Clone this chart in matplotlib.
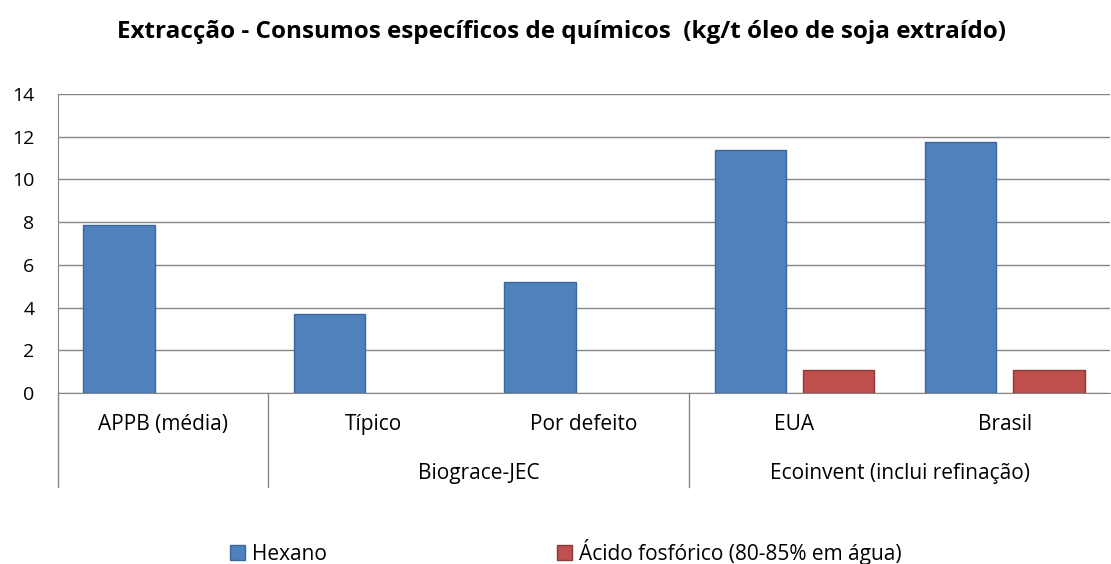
import numpy as np
import matplotlib
matplotlib.use("Agg")
from matplotlib import pyplot as plt
from matplotlib.patches import Patch

plt.rcParams['font.family'] = ['Open Sans', 'DejaVu Sans']

# data
categories = ["APPB (média)", "Típico", "Por defeito", "EUA", "Brasil"]
groups = ["", "Biograce-JEC", "Biograce-JEC", "Ecoinvent (inclui refinação)", "Ecoinvent (inclui refinação)"]
hexano = [7.87, 3.70, 5.20, 11.38, 11.73]
acido = [0, 0, 0, 1.07, 1.10]
series_names = ["Hexano", "Ácido fosfórico (80-85% em água)"]

blue, blue_edge = "#4F81BD", "#3A679C"
red, red_edge = "#C0504D", "#8C3836"
grid_c = "#868686"

fig = plt.figure(figsize=(11.11, 5.64), dpi=100)
ax = fig.add_axes([0.0522, 0.3032, 0.947, 0.5301])

x = np.arange(len(categories))
w = 0.34
off = 0.21
ax.bar(x - off, hexano, w, color=blue, edgecolor=blue_edge, linewidth=1, zorder=3)
vals = np.array(acido)
ax.bar(x[vals > 0] + off, vals[vals > 0], w, color=red, edgecolor=red_edge, linewidth=1, zorder=3)

ax.set_xlim(-0.5, len(categories) - 0.5)
ax.set_ylim(0, 14)
ax.set_yticks(np.arange(0, 15, 2))
ax.tick_params(axis='y', length=0, pad=17, labelsize=14)
ax.set_xticks([])
ax.grid(axis='y', color=grid_c, linewidth=1, zorder=0)
for s in ['top', 'right']:
    ax.spines[s].set_visible(False)
ax.spines['left'].set_color(grid_c)
ax.spines['bottom'].set_color(grid_c)

# multi-level category axis
trans = ax.get_xaxis_transform()
for i, c in enumerate(categories):
    ax.text(i, -0.104, c, transform=trans, ha='center', va='center', fontsize=15)

bounds = [0]
for i in range(1, len(groups)):
    if groups[i] != groups[i - 1]:
        bounds.append(i)
bounds.append(len(groups))
for a, b in zip(bounds[:-1], bounds[1:]):
    if groups[a]:
        ax.text((a + b - 1) / 2, -0.268, groups[a], transform=trans,
                ha='center', va='center', fontsize=15)
for a in bounds[:-1]:
    ax.plot([a - 0.5, a - 0.5], [0, -0.314], transform=trans, color=grid_c,
            linewidth=1, clip_on=False)

fig.text(0.505, 0.943, "Extracção - Consumos específicos de químicos  (kg/t óleo de soja extraído)",
         ha='center', va='center', fontsize=17.5, fontweight='bold')

handles = [Patch(facecolor=blue, edgecolor=blue_edge), Patch(facecolor=red, edgecolor=red_edge)]
fig.legend(handles, series_names, loc='center', bbox_to_anchor=(0.5095, 0.021), ncol=2,
           frameon=False, fontsize=15, handlelength=0.72, handleheight=0.72,
           handletextpad=0.34, columnspacing=11.05, borderpad=0)

fig.savefig("out.png", dpi=100)
